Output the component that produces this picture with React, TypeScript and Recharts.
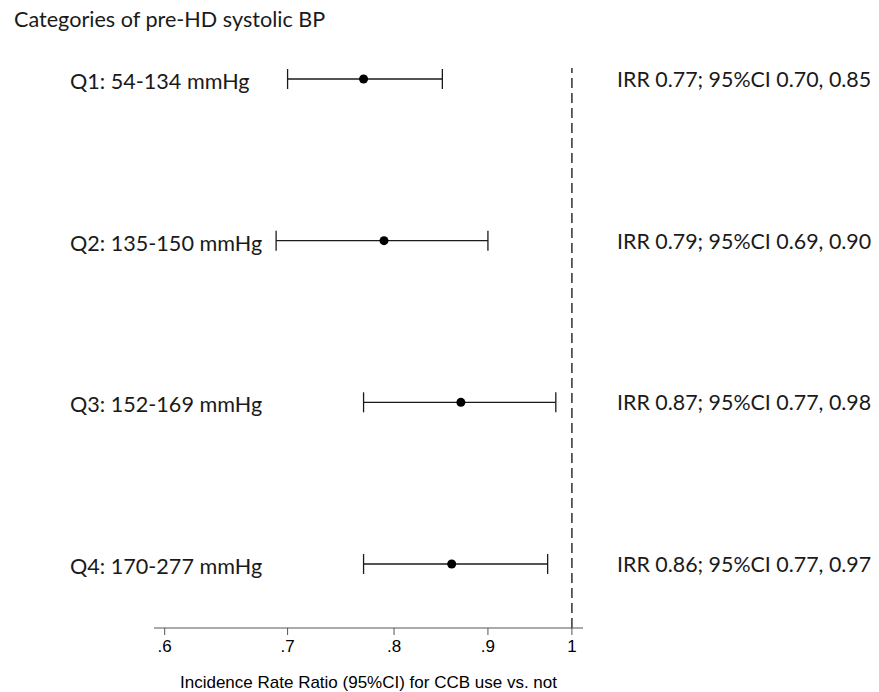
import { ErrorBar, ReferenceLine, Scatter, ScatterChart, XAxis, YAxis } from "recharts";

const categories = ["Q1: 54-134 mmHg", "Q2: 135-150 mmHg", "Q3: 152-169 mmHg", "Q4: 170-277 mmHg"];
const irr = [0.77, 0.79, 0.87, 0.86];
const ciLow = [0.7, 0.69, 0.77, 0.77];
const ciHigh = [0.85, 0.9, 0.98, 0.97];
const annotations = [
  "IRR 0.77; 95%CI 0.70, 0.85",
  "IRR 0.79; 95%CI 0.69, 0.90",
  "IRR 0.87; 95%CI 0.77, 0.98",
  "IRR 0.86; 95%CI 0.77, 0.97",
];
const rowPos = [4, 3, 2, 1];
const xTicks = [0.6, 0.7, 0.8, 0.9, 1];
const xTickLabels = [".6", ".7", ".8", ".9", "1"];

const rows = categories.map((name, i) => ({
  name,
  note: annotations[i],
  row: rowPos[i],
  irr: irr[i],
  err: [irr[i] - ciLow[i], ciHigh[i] - irr[i]],
}));

const yDomain = [0.604, 4.068];
const ink = "#1a1a1a";

function CategoryTick(props: any) {
  const r = rows.find((d) => d.row === props.payload.value);
  if (!r) return null;
  return (
    <text x={62} y={props.y + 10} fill={ink} fontSize={21.6} fontFamily="Lato" textAnchor="start">
      {r.name}
    </text>
  );
}

function NoteTick(props: any) {
  const r = rows.find((d) => d.row === props.payload.value);
  if (!r) return null;
  return (
    <text x={609} y={props.y + 8} fill={ink} fontSize={21.4} fontFamily="Lato" textAnchor="start">
      {r.note}
    </text>
  );
}

export default function App() {
  return (
    <div style={{ position: "relative", width: 871, height: 684 }}>
      <div
        style={{
          position: "absolute",
          left: 6,
          top: 1,
          fontFamily: "Lato",
          fontSize: 21.6,
          lineHeight: 1,
          color: ink,
          whiteSpace: "nowrap",
        }}
      >
        Categories of pre-HD systolic BP
      </div>
      <ScatterChart width={871} height={684} margin={{ top: 60, right: 0, bottom: 0, left: 0 }}>
        <XAxis
          dataKey="irr"
          type="number"
          scale="log"
          domain={[0.592, 1.014]}
          allowDataOverflow
          ticks={xTicks}
          tickFormatter={(v: number) => xTickLabels[xTicks.indexOf(v)]}
          tick={{ fill: "#000", fontSize: 17, fontFamily: "Liberation Sans" }}
          tickSize={7}
          tickMargin={5}
          axisLine={{ stroke: "#555" }}
          tickLine={{ stroke: "#555" }}
          height={64}
          label={{
            value: "Incidence Rate Ratio (95%CI) for CCB use vs. not",
            position: "insideBottom",
            offset: 4,
            fill: "#000",
            fontSize: 17,
            fontFamily: "Liberation Sans",
          }}
        />
        <YAxis
          yAxisId="l"
          dataKey="row"
          type="number"
          domain={yDomain}
          allowDataOverflow
          ticks={rowPos}
          width={146}
          axisLine={false}
          tickLine={false}
          tick={<CategoryTick />}
        />
        <YAxis
          yAxisId="r"
          orientation="right"
          dataKey="row"
          type="number"
          domain={yDomain}
          allowDataOverflow
          ticks={rowPos}
          width={296}
          axisLine={false}
          tickLine={false}
          tick={<NoteTick />}
        />
        <ReferenceLine x={1} yAxisId="l" stroke="#222" strokeWidth={1.4} strokeDasharray="10 5" />
        <Scatter data={rows} yAxisId="l" fill="#000" isAnimationActive={false}>
          <ErrorBar dataKey="err" direction="x" width={10} stroke={ink} strokeWidth={1.3} />
        </Scatter>
        <Scatter data={rows} yAxisId="r" shape={() => <g />} isAnimationActive={false} />
      </ScatterChart>
    </div>
  );
}
